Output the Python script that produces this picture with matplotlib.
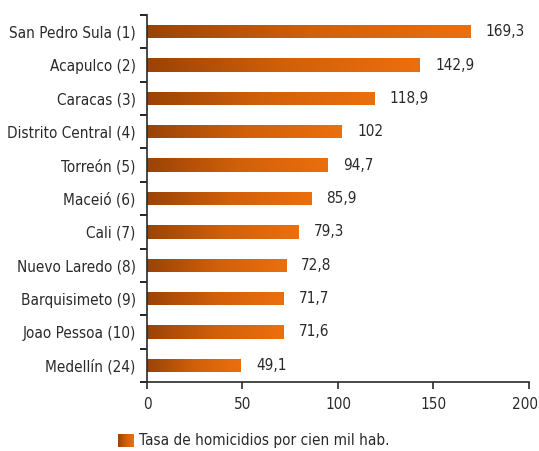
import matplotlib.pyplot as plt
import numpy as np
from matplotlib.colors import LinearSegmentedColormap
import matplotlib.transforms as mtransforms

plt.rcParams['font.family'] = ['DejaVu Sans']
plt.rcParams['font.stretch'] = 'condensed'

cities = ['San Pedro Sula (1)', 'Acapulco (2)', 'Caracas (3)', 'Distrito Central (4)',
          'Torreón (5)', 'Maceió (6)', 'Cali (7)', 'Nuevo Laredo (8)',
          'Barquisimeto (9)', 'Joao Pessoa (10)', 'Medellín (24)']
rates = [169.3, 142.9, 118.9, 102, 94.7, 85.9, 79.3, 72.8, 71.7, 71.6, 49.1]
value_labels = ['169,3', '142,9', '118,9', '102', '94,7', '85,9', '79,3',
                '72,8', '71,7', '71,6', '49,1']
legend_label = 'Tasa de homicidios por cien mil hab.'

cmap = LinearSegmentedColormap.from_list('bar', ['#9a4306', '#d0600a', '#ec6f0d'])
grad = np.linspace(0, 1, 256).reshape(1, -1)
txt = '#2a2a2a'

fig = plt.figure(figsize=(5.39, 4.51), dpi=100)
ax = fig.add_axes([0.2727, 0.153, 0.7087, 0.8137])

ypos = np.arange(len(cities))[::-1]
bars = ax.barh(ypos, rates, height=0.4, color='none', edgecolor='none')
for b in bars:
    x0, y0 = b.get_x(), b.get_y()
    im = ax.imshow(grad, cmap=cmap, aspect='auto', interpolation='bilinear',
                   extent=[x0, x0 + b.get_width(), y0, y0 + b.get_height()], zorder=2)
    im.set_clip_path(b)

for y, v, lab in zip(ypos, rates, value_labels):
    ax.text(v + 8, y, lab, va='center', ha='left', fontsize=11, color=txt)

ax.set_xlim(0, 200)
ax.set_ylim(-0.5, len(cities) - 0.5)
ax.set_xticks([0, 50, 100, 150, 200])
ax.tick_params(axis='x', labelsize=11, length=5, width=1.2, colors=txt, pad=6)
last = ax.get_xticklabels()[-1]
last.set_transform(last.get_transform() + mtransforms.ScaledTranslation(-4 / 100, 0, fig.dpi_scale_trans))

ax.set_yticks(np.arange(-0.5, len(cities), 1))
ax.set_yticklabels([])
ax.tick_params(axis='y', which='major', length=5, width=1.2, direction='out')
ax.set_yticks(ypos, minor=True)
ax.set_yticklabels(cities, minor=True)
ax.tick_params(axis='y', which='minor', length=0, labelsize=11, pad=8, colors=txt)

for s in ['top', 'right']:
    ax.spines[s].set_visible(False)
for s in ['left', 'bottom']:
    ax.spines[s].set_linewidth(1.2)
    ax.spines[s].set_color(txt)

# legend swatch with the same gradient
lax = fig.add_axes([118 / 539, 1 - 447 / 451, 15 / 539, 13 / 451])
lax.imshow(grad, cmap=cmap, aspect='auto', interpolation='bilinear')
lax.axis('off')
fig.text(139 / 539, 1 - 441 / 451, legend_label, fontsize=11, va='center',
         ha='left', color=txt)

fig.savefig('out.png', dpi=100)
